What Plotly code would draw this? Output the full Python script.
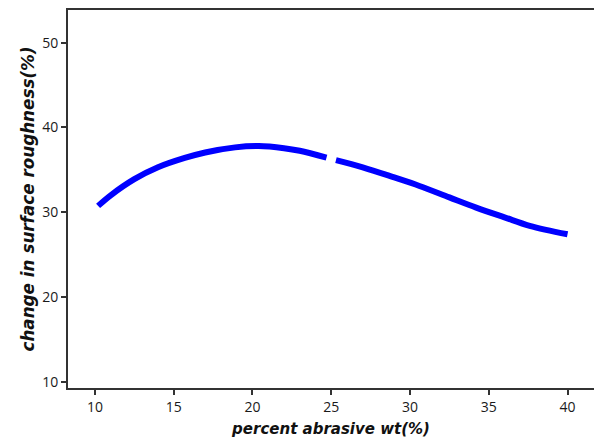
import plotly.graph_objects as go

# Data (None marks the small break in the curve)
abrasive_wt = [10.2, 11, 12.5, 14, 15.7, 17, 18.9, 20.4, 22, 23, 24.7, None,
               25.3, 27, 29, 30.6, 32.5, 34.2, 36, 37.6, 40]
roughness_change = [30.75, 32.0, 33.9, 35.3, 36.4, 37.05, 37.65, 37.8, 37.55, 37.25, 36.45, None,
                    36.15, 35.3, 34.1, 33.1, 31.75, 30.55, 29.4, 28.4, 27.4]
x_ticks = [10, 15, 20, 25, 30, 35, 40]
y_ticks = [10, 20, 30, 40, 50]

fig = go.Figure()
fig.add_trace(go.Scatter(
    x=abrasive_wt, y=roughness_change, mode="lines",
    line=dict(color="#0000ff", width=6, shape="spline"),
    connectgaps=False, showlegend=False,
))

axis_font = dict(family="Open Sans", size=14, color="#1a1a1a")

fig.update_layout(
    width=594, height=439,
    margin=dict(l=68, r=0, t=10, b=51),
    paper_bgcolor="white", plot_bgcolor="white",
    xaxis=dict(
        range=[8.29, 41.68], tickvals=x_ticks, ticks="outside", ticklen=5,
        tickwidth=1.5, tickcolor="#333333",
        showline=True, linecolor="#333333", linewidth=2, mirror=True,
        showgrid=False, zeroline=False, tickfont=axis_font,
        title=dict(text="<b><i>percent abrasive wt(%)</i></b>",
                   font=dict(family="DejaVu Sans", size=15, color="#111111"), standoff=9),
    ),
    yaxis=dict(
        range=[9.26, 53.86], tickvals=y_ticks, ticks="outside", ticklen=5,
        tickwidth=1.5, tickcolor="#333333",
        showline=True, linecolor="#333333", linewidth=2,
        showgrid=False, zeroline=False, tickfont=axis_font,
        title=dict(text="<b><i>change in surface roughness(%)</i></b>",
                   font=dict(family="DejaVu Sans", size=16.8, color="#111111"), standoff=3),
    ),
)

fig.write_html(
    "out.html",
    config={"displayModeBar": False},
    post_script="document.body.style.margin='0';document.body.style.overflow='hidden';",
)
